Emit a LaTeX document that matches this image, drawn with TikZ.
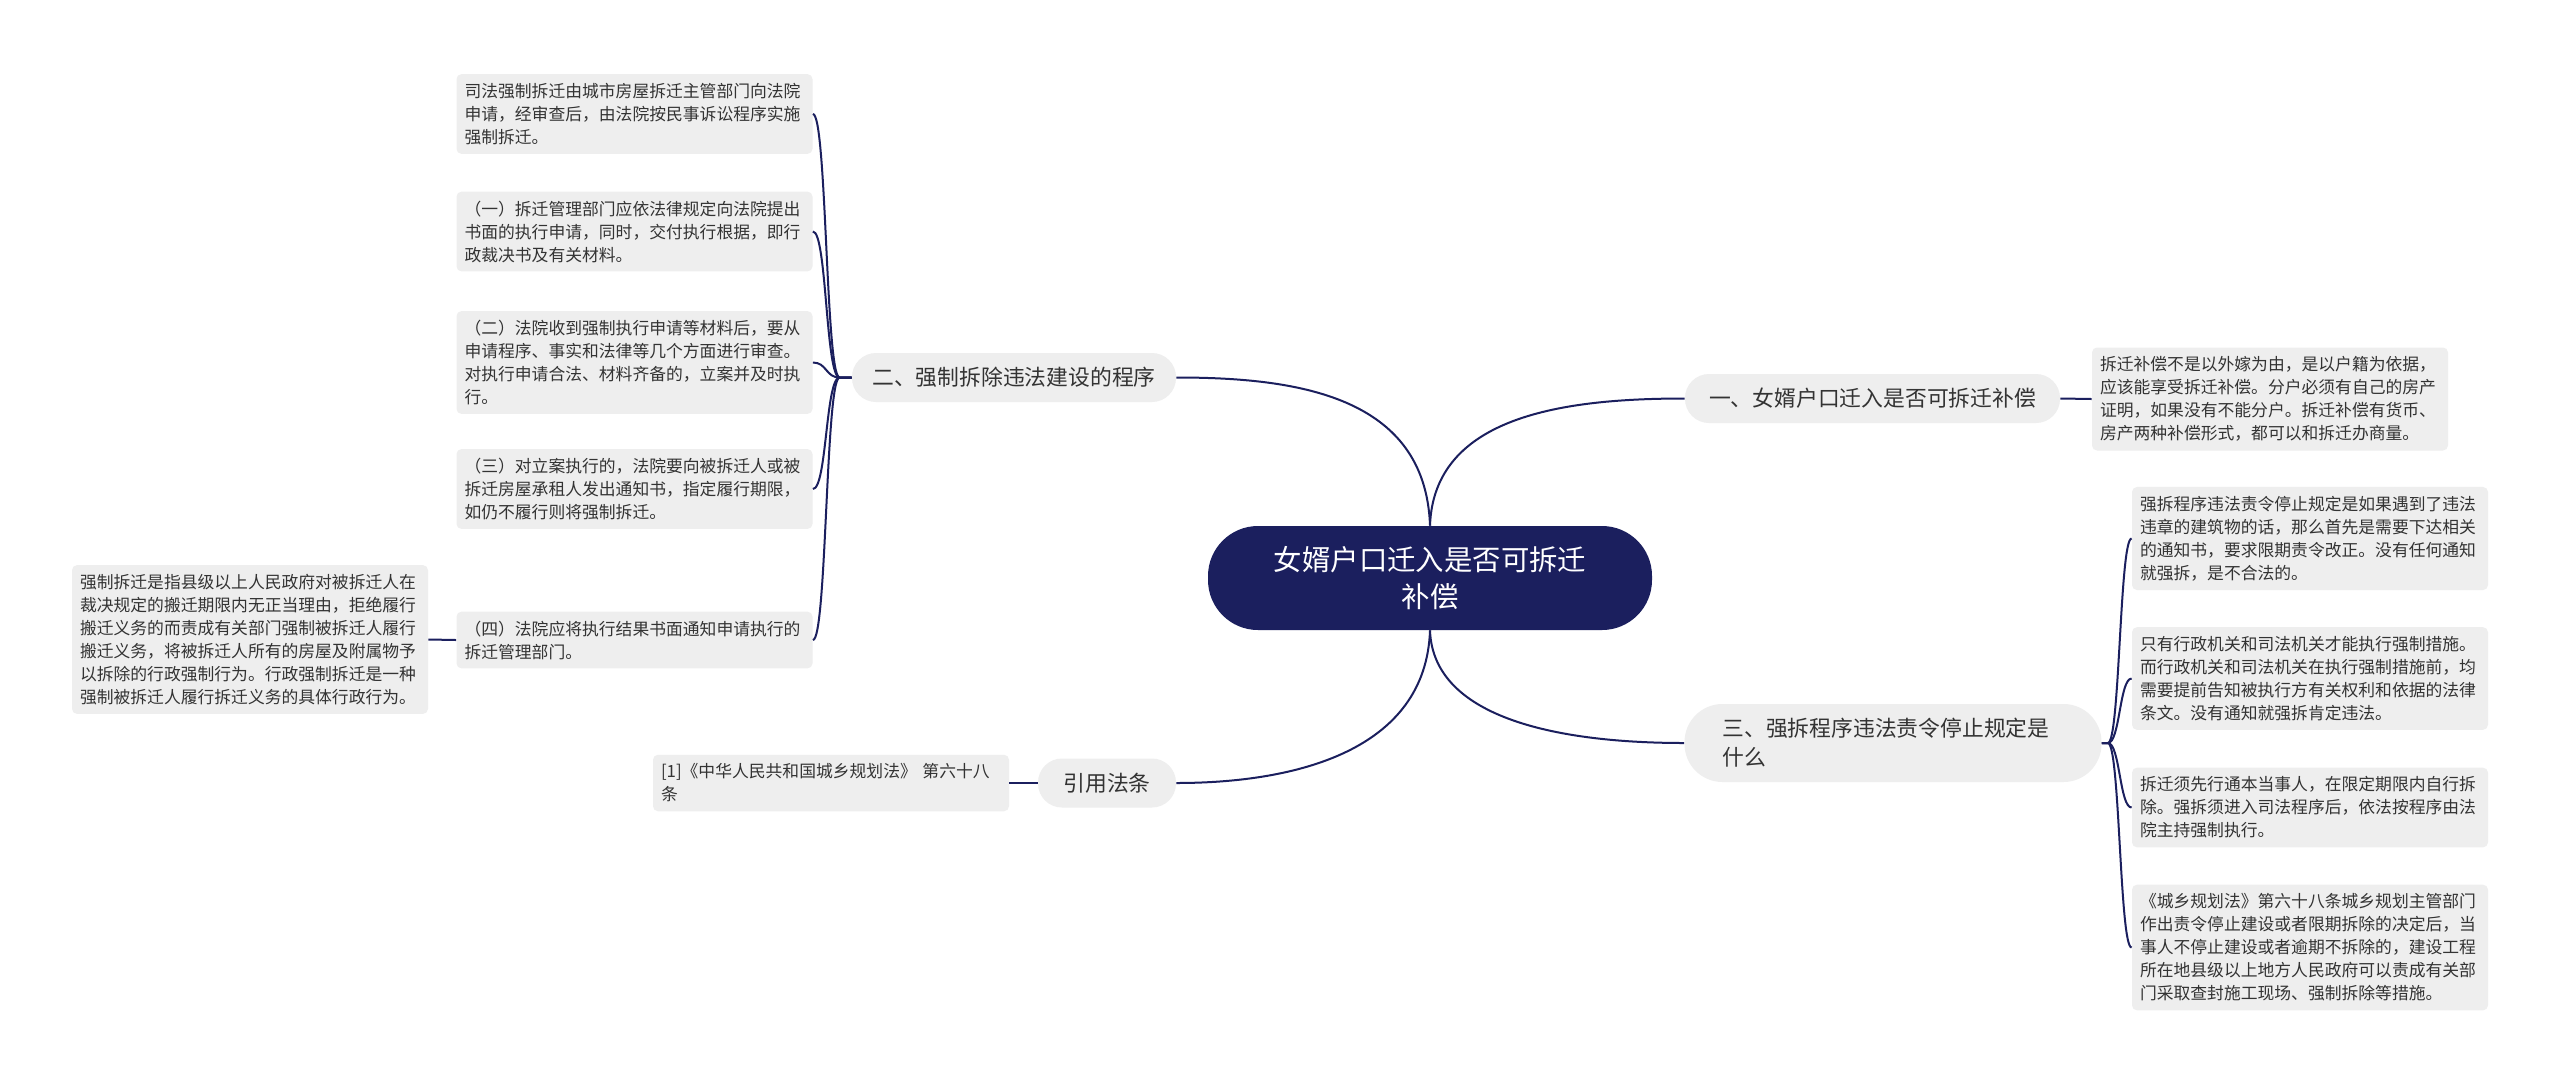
\documentclass[tikz,border=0pt]{standalone}
\usepackage{fontspec}
\setmainfont{Noto Sans CJK SC}
\usepackage{tikz}
\usetikzlibrary{positioning}
\newcommand{\leafsize}{\fontsize{8.4}{11.5}\selectfont}
\newcommand{\topicsize}{\fontsize{10.9}{14.6}\selectfont}
\newcommand{\rootsize}{\fontsize{14.2}{18.8}\selectfont}

\begin{document}
\begin{tikzpicture}[x=0.5pt,y=-0.5pt,
  leaf/.style={fill=leafgray, rounded corners=2.5pt, text=inkgray, font=\leafsize,
    align=left, text width=170pt, inner xsep=4pt, inner ysep=4.5pt},
  topic/.style={fill=leafgray, rounded corners=12pt, text=inkgray, font=\topicsize,
    minimum height=24.5pt},
  link/.style={draw=linknavy, line width=1pt}]
  \definecolor{rootnavy}{HTML}{1B1F5E}
  \definecolor{linknavy}{HTML}{1B1F5E}
  \definecolor{leafgray}{HTML}{EEEEEE}
  \definecolor{inkgray}{HTML}{333333}

  \fill[white] (0,0) rectangle (2560,1083);
  \useasboundingbox (0,0) rectangle (2560,1083);

  \node[fill=rootnavy, text=white, font=\rootsize, align=center, rounded corners=25pt,
    minimum width=222pt, minimum height=52pt] (root) at (1430,578)
    {女婿户口迁入是否可拆迁\\补偿};

  % main topics
  \node[topic, minimum width=162pt] (procedure) at (1014,377.5) {二、强制拆除违法建设的程序};
  \node[topic, minimum width=69pt] (cite) at (1107,783) {引用法条};
  \node[topic, minimum width=187.5pt] (household) at (1872.5,398.5) {一、女婿户口迁入是否可拆迁补偿};
  \node[topic, rounded corners=19pt, align=left, text width=170.5pt, inner xsep=19pt,
    minimum height=39pt] (illegal) at (1893,743) {三、强拆程序违法责令停止规定是\\什么};

  % left leaves
  \node[leaf] (proc0) at (634.5,114) {司法强制拆迁由城市房屋拆迁主管部门向法院\\申请，经审查后，由法院按民事诉讼程序实施\\强制拆迁。};
  \node[leaf] (proc1) at (634.5,231.5) {（一）拆迁管理部门应依法律规定向法院提出\\书面的执行申请，同时，交付执行根据，即行\\政裁决书及有关材料。};
  \node[leaf] (proc2) at (634.5,362.5) {（二）法院收到强制执行申请等材料后，要从\\申请程序、事实和法律等几个方面进行审查。\\对执行申请合法、材料齐备的，立案并及时执\\行。};
  \node[leaf] (proc3) at (634.5,489) {（三）对立案执行的，法院要向被拆迁人或被\\拆迁房屋承租人发出通知书，指定履行期限，\\如仍不履行则将强制拆迁。};
  \node[leaf] (proc4) at (634.5,640) {（四）法院应将执行结果书面通知申请执行的\\拆迁管理部门。};
  \node[leaf] (demolish) at (250,639.5) {强制拆迁是指县级以上人民政府对被拆迁人在\\裁决规定的搬迁期限内无正当理由，拒绝履行\\搬迁义务的而责成有关部门强制被拆迁人履行\\搬迁义务，将被拆迁人所有的房屋及附属物予\\以拆除的行政强制行为。行政强制拆迁是一种\\强制被拆迁人履行拆迁义务的具体行政行为。};
  \node[leaf] (law) at (831,783) {[1]《中华人民共和国城乡规划法》 第六十八\\条};

  % right leaves
  \node[leaf] (answer) at (2270,399) {拆迁补偿不是以外嫁为由，是以户籍为依据，\\应该能享受拆迁补偿。分户必须有自己的房产\\证明，如果没有不能分户。拆迁补偿有货币、\\房产两种补偿形式，都可以和拆迁办商量。};
  \node[leaf] (rule1) at (2310,538.5) {强拆程序违法责令停止规定是如果遇到了违法\\违章的建筑物的话，那么首先是需要下达相关\\的通知书，要求限期责令改正。没有任何通知\\就强拆，是不合法的。};
  \node[leaf] (rule2) at (2310,678.5) {只有行政机关和司法机关才能执行强制措施。\\而行政机关和司法机关在执行强制措施前，均\\需要提前告知被执行方有关权利和依据的法律\\条文。没有通知就强拆肯定违法。};
  \node[leaf] (rule3) at (2310,807.5) {拆迁须先行通本当事人，在限定期限内自行拆\\除。强拆须进入司法程序后，依法按程序由法\\院主持强制执行。};
  \node[leaf] (rule4) at (2310,947.5) {《城乡规划法》第六十八条城乡规划主管部门\\作出责令停止建设或者限期拆除的决定后，当\\事人不停止建设或者逾期不拆除的，建设工程\\所在地县级以上地方人民政府可以责成有关部\\门采取查封施工现场、强制拆除等措施。};

  % connectors
  \draw[link] (root.north) to[out=92,in=0,out distance=65pt,in distance=60pt] (procedure.east);
  \draw[link] (root.north) to[out=88,in=180,out distance=55pt,in distance=60pt] (household.west);
  \draw[link] (root.south) to[out=268,in=0,out distance=60pt,in distance=60pt] (cite.east);
  \draw[link] (root.south) to[out=272,in=180,out distance=45pt,in distance=60pt] (illegal.west);

  \foreach \leafname in {proc0,proc1,proc2,proc3,proc4}
    \draw[link] (procedure.west) -- ++(-12,0) to[out=180,in=0,distance=7pt] (\leafname.east);
  \draw[link] (proc4.west) -- (demolish.east);
  \draw[link] (cite.west) -- (law.east);
  \draw[link] (household.east) -- (answer.west);
  \foreach \leafname in {rule1,rule2,rule3,rule4}
    \draw[link] (illegal.east) -- ++(6,0) to[out=0,in=180,distance=6pt] (\leafname.west);

\end{tikzpicture}
\end{document}
